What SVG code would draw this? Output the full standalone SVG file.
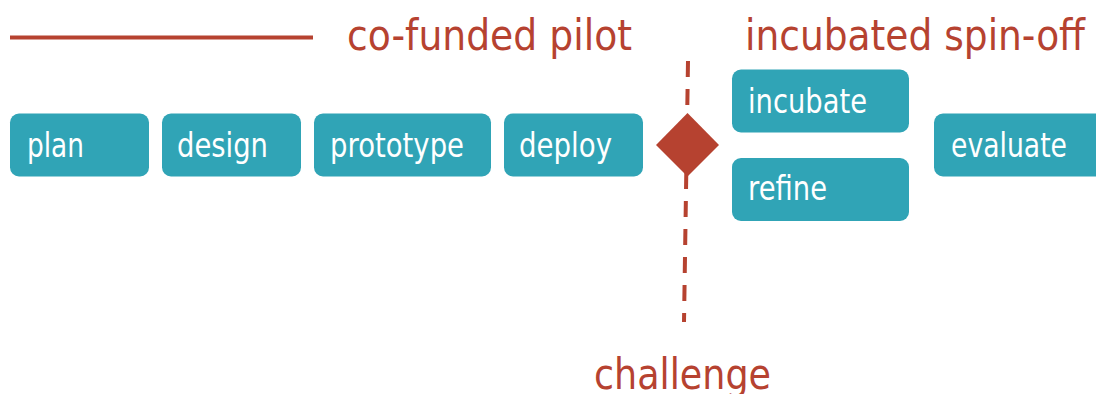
<svg xmlns="http://www.w3.org/2000/svg" width="1096" height="394" viewBox="0 0 1096 394">
  <style>
    .box { fill: #30a4b6; }
    .lbl { font-family: "DejaVu Sans", "Liberation Sans", sans-serif; font-size: 33px; fill: #ffffff; }
    .head { font-family: "DejaVu Sans", "Liberation Sans", sans-serif; font-size: 43px; fill: #b64230; }
  </style>
  <rect width="1096" height="394" fill="#ffffff"/>

  <!-- phase headings -->
  <g id="phase-pilot">
    <line x1="10" y1="37.5" x2="313" y2="37.5" stroke="#b64230" stroke-width="4"/>
    <text class="head" x="347" y="50" textLength="285" lengthAdjust="spacingAndGlyphs">co-funded pilot</text>
  </g>
  <g id="phase-spinoff">
    <text class="head" x="745" y="50" textLength="340" lengthAdjust="spacingAndGlyphs">incubated spin-off</text>
  </g>

  <!-- challenge gate -->
  <g id="connectors">
    <line x1="688" y1="61" x2="684" y2="322" stroke="#b64230" stroke-width="4" stroke-dasharray="16 12"/>
  </g>
  <g id="gate">
    <polygon points="687.5,113 719,145 687.5,176.5 656,145" fill="#b64230"/>
  </g>
  <g id="challenge">
    <text class="head" x="594" y="389" textLength="177" lengthAdjust="spacingAndGlyphs">challenge</text>
  </g>

  <!-- steps -->
  <g id="plan">
    <rect class="box" x="10" y="113.5" width="139" height="63" rx="9"/>
    <text class="lbl" x="27" y="157" textLength="57" lengthAdjust="spacingAndGlyphs">plan</text>
  </g>
  <g id="design">
    <rect class="box" x="162" y="113.5" width="139" height="63" rx="9"/>
    <text class="lbl" x="177" y="157" textLength="91" lengthAdjust="spacingAndGlyphs">design</text>
  </g>
  <g id="prototype">
    <rect class="box" x="314" y="113.5" width="177" height="63" rx="9"/>
    <text class="lbl" x="330" y="157" textLength="134" lengthAdjust="spacingAndGlyphs">prototype</text>
  </g>
  <g id="deploy">
    <rect class="box" x="504" y="113.5" width="139" height="63" rx="9"/>
    <text class="lbl" x="519" y="157" textLength="93" lengthAdjust="spacingAndGlyphs">deploy</text>
  </g>
  <g id="incubate">
    <rect class="box" x="732" y="69.5" width="177" height="63" rx="9"/>
    <text class="lbl" x="748" y="113" textLength="119" lengthAdjust="spacingAndGlyphs">incubate</text>
  </g>
  <g id="refine">
    <rect class="box" x="732" y="158" width="177" height="63" rx="9"/>
    <text class="lbl" x="748" y="200" textLength="79" lengthAdjust="spacingAndGlyphs">refine</text>
  </g>
  <g id="evaluate">
    <rect class="box" x="934" y="113.5" width="170" height="63" rx="9"/>
    <text class="lbl" x="951" y="156.5" textLength="116" lengthAdjust="spacingAndGlyphs">evaluate</text>
  </g>
</svg>
